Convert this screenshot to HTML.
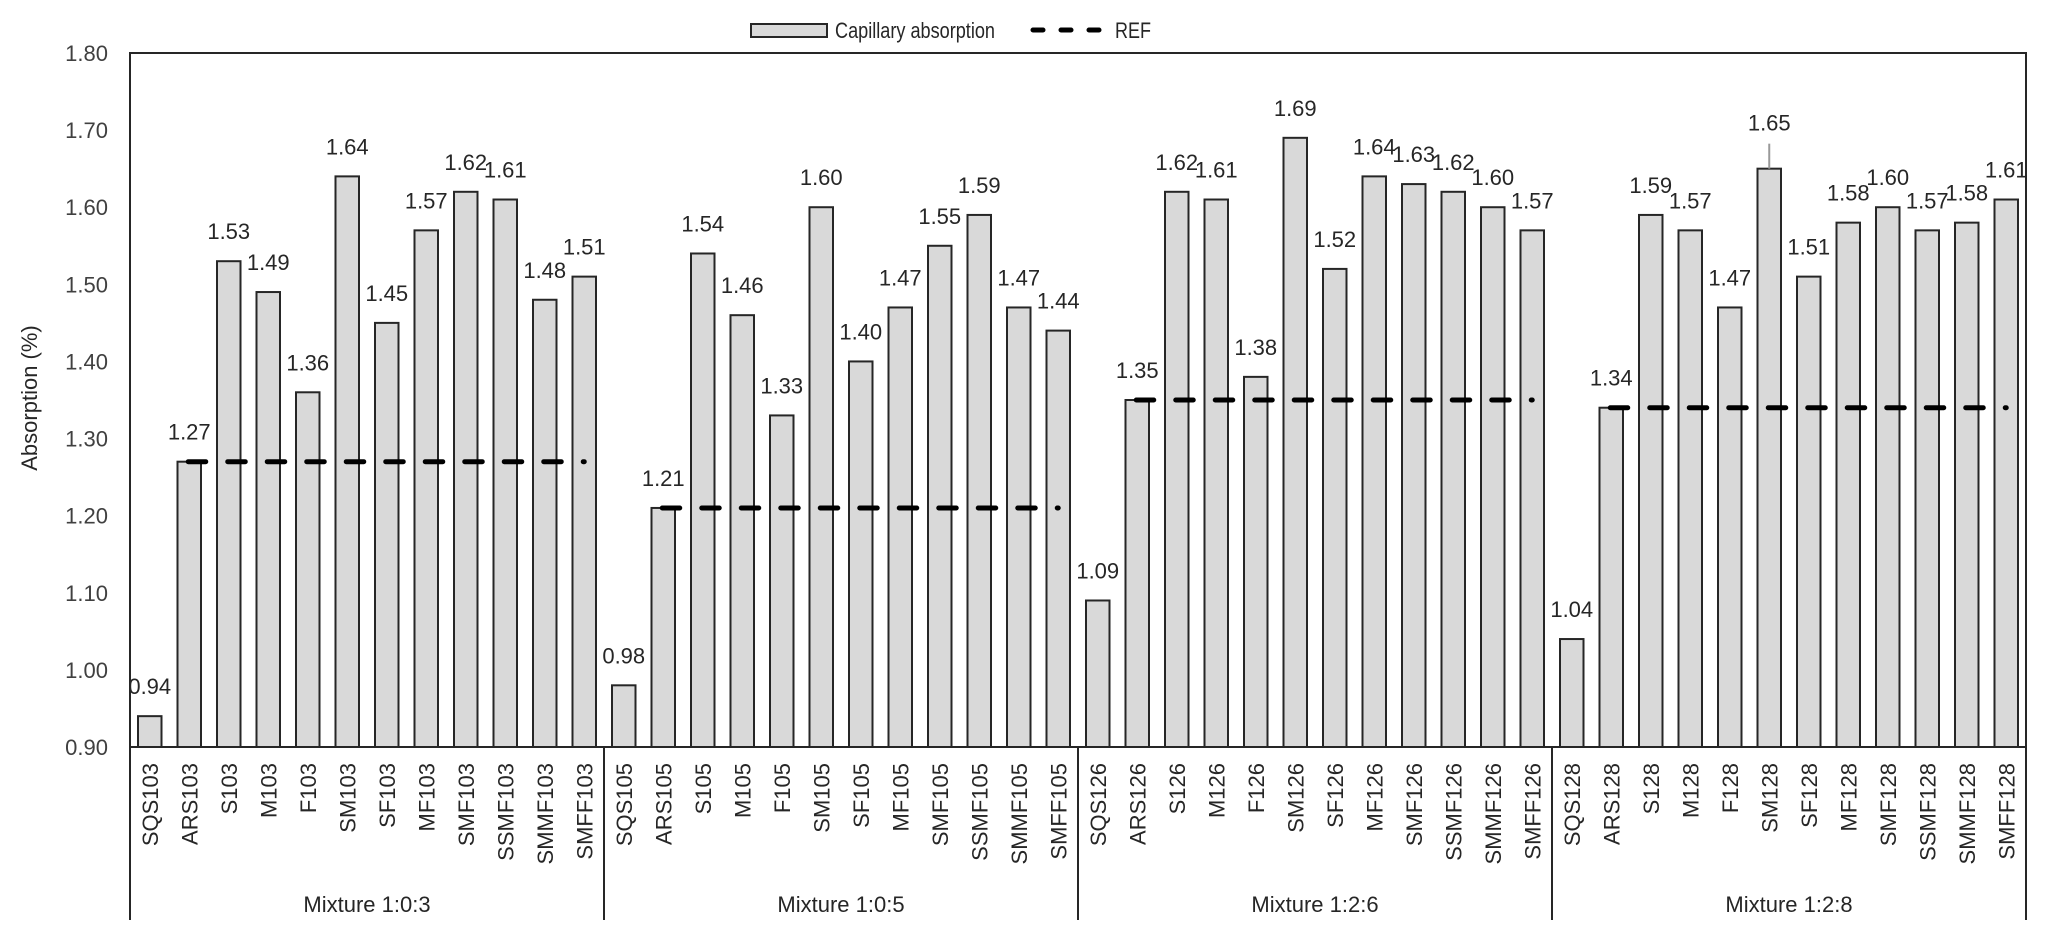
<!DOCTYPE html>
<html><head><meta charset="utf-8">
<style>
html,body{margin:0;padding:0;background:#fff;}
svg{display:block;font-family:"Liberation Sans",Arial,sans-serif;}
</style></head>
<body>
<svg id="chart" width="2048" height="940" viewBox="0 0 2048 940" xmlns="http://www.w3.org/2000/svg">
  <g>
    <rect x="751" y="24" width="76" height="13" fill="#d9d9d9" stroke="#262626" stroke-width="2"/>
    <text x="835" y="38" font-size="22" fill="#262626" textLength="160" lengthAdjust="spacingAndGlyphs">Capillary absorption</text>
    <line x1="1033" y1="30" x2="1104" y2="30" stroke="#000" stroke-width="5" stroke-linecap="round" stroke-dasharray="10 18"/>
    <text x="1115" y="38" font-size="22" fill="#262626" textLength="36" lengthAdjust="spacingAndGlyphs">REF</text>
  </g>
  <g id="plot"></g>
</svg>
<script>
const groups = ["Mixture 1:0:3","Mixture 1:0:5","Mixture 1:2:6","Mixture 1:2:8"];
const suffixes = ["103","105","126","128"];
const prefixes = ["SQS","ARS","S","M","F","SM","SF","MF","SMF","SSMF","SMMF","SMFF"];
const values103 = [0.94,1.27,1.53,1.49,1.36,1.64,1.45,1.57,1.62,1.61,1.48,1.51];
const values105 = [0.98,1.21,1.54,1.46,1.33,1.60,1.40,1.47,1.55,1.59,1.47,1.44];
const values126 = [1.09,1.35,1.62,1.61,1.38,1.69,1.52,1.64,1.63,1.62,1.60,1.57];
const values128 = [1.04,1.34,1.59,1.57,1.47,1.65,1.51,1.58,1.60,1.57,1.58,1.61];
const refValues = [1.27,1.21,1.35,1.34];
const yTicks = ["0.90","1.00","1.10","1.20","1.30","1.40","1.50","1.60","1.70","1.80"];

const NS = "http://www.w3.org/2000/svg";
const plot = document.getElementById("plot");
const X0 = 130, X1 = 2026, Y0 = 747, Y1 = 53, YMIN = 0.9, YMAX = 1.8;
const allVals = [values103, values105, values126, values128];
const nCat = prefixes.length * groups.length;
const cw = (X1 - X0) / nCat;
const bw = 23.5;
function y(v){ return Y0 - (v - YMIN) / (YMAX - YMIN) * (Y0 - Y1); }
function xc(i){ return X0 + (i + 0.5) * cw; }
function mk(tag, attrs, parent){ const e = document.createElementNS(NS, tag); for (const k in attrs) e.setAttribute(k, attrs[k]); (parent || plot).appendChild(e); return e; }

yTicks.forEach(t => {
  const tx = mk("text", {x: 108, y: y(parseFloat(t)) + 8, "font-size": 22, "text-anchor": "end", fill: "#404040"});
  
  
  tx.textContent = t;
});
const yt = mk("text", {x: 0, y: 0, "font-size": 22, "text-anchor": "middle", fill: "#262626", transform: "translate(37,398) rotate(-90)"});


yt.textContent = "Absorption (%)";

allVals.forEach((vals, g) => {
  vals.forEach((v, j) => {
    const i = g * prefixes.length + j;
    const cx = xc(i);
    const r = mk("rect", {x: cx - bw/2, y: y(v), width: bw, height: Y0 - y(v), fill: "#d9d9d9", stroke: "#262626", "stroke-width": 2});
    
    
    const raised = (g === 3 && j === 5);
    if (raised) {
      const ld = mk("line", {x1: cx, y1: y(v), x2: cx, y2: y(v) - 25, stroke: "#999", "stroke-width": 2});
      
      
    }
    const lb = mk("text", {x: cx, y: y(v) - (raised ? 38 : 22), "font-size": 22, "text-anchor": "middle", fill: "#262626"});
    
    
    lb.textContent = v.toFixed(2);
    const xl = mk("text", {x: 0, y: 0, "font-size": 22, "text-anchor": "end", fill: "#262626", transform: "translate(" + (cx + 8) + ",763) rotate(-90)"});
    
    
    xl.textContent = prefixes[j] + suffixes[g];
  });
  const a = xc(g * prefixes.length + 1), b = xc(g * prefixes.length + prefixes.length - 1);
  const ry = y(refValues[g]);
  const rl = mk("line", {x1: a - 1, y1: ry, x2: b, y2: ry, stroke: "#000", "stroke-width": 5, "stroke-linecap": "round", "stroke-dasharray": "17.5 22"});
  
  
  const gx = X0 + (g + 0.5) * prefixes.length * cw;
  const gl = mk("text", {x: gx, y: 912, "font-size": 22, "text-anchor": "middle", fill: "#262626"});
  
  
  gl.textContent = groups[g];
});

const fr = mk("path", {d: `M${X0} 920 V${Y1} H${X1} V920 M${X0} ${Y0} H${X1}`, fill: "none", stroke: "#262626", "stroke-width": 2});


for (let g = 1; g < groups.length; g++) {
  const sx = X0 + g * prefixes.length * cw;
  const s = mk("line", {x1: sx, y1: Y0, x2: sx, y2: 920, stroke: "#262626", "stroke-width": 2});
  
  
}
</script>
</body></html>
